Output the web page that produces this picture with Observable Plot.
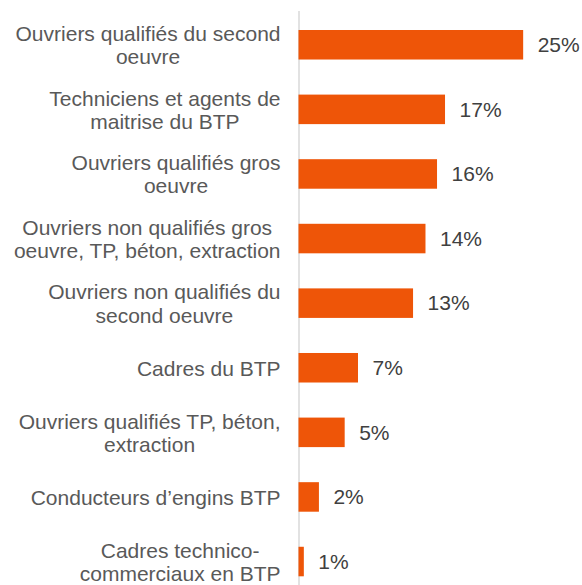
<!DOCTYPE html>
<html>
<head>
<meta charset="utf-8">
<script src="https://cdn.jsdelivr.net/npm/d3@7"></script>
<script src="https://cdn.jsdelivr.net/npm/@observablehq/plot@0.6"></script>
<style>
  html, body { margin: 0; padding: 0; background: #fff; }
  #chart { width: 582px; height: 585px; }
</style>
</head>
<body>
<div id="chart"></div>
<script>
const categories = [
  "Ouvriers qualifiés du second\noeuvre",
  "Techniciens et agents de\nmaitrise du BTP",
  "Ouvriers qualifiés gros\noeuvre",
  "Ouvriers non qualifiés gros\noeuvre, TP, béton, extraction",
  "Ouvriers non qualifiés du\nsecond oeuvre",
  "Cadres du BTP",
  "Ouvriers qualifiés TP, béton,\nextraction",
  "Conducteurs d’engins BTP",
  "Cadres technico-\ncommerciaux en BTP"
];
const values = [25.3, 16.5, 15.6, 14.3, 12.9, 6.7, 5.2, 2.3, 0.6];
const valueLabels = ["25%", "17%", "16%", "14%", "13%", "7%", "5%", "2%", "1%"];

const data = categories.map((c, i) => ({cat: c, value: values[i], label: valueLabels[i]}));

const font = "'Liberation Sans', Arial, sans-serif";

const chart = Plot.plot({
  width: 582,
  height: 585,
  marginTop: 11,
  marginBottom: 0,
  marginLeft: 0,
  marginRight: 0,
  style: {fontFamily: font, background: "#fff"},
  x: {domain: [0, 30], range: [298.5, 298.5 + 30 * 8.88], axis: null},
  y: {domain: categories, range: [30, 576.3], paddingInner: 0.543, paddingOuter: 0, round: false, axis: null},
  marks: [
    Plot.ruleX([0], {stroke: "#D9D9D9", strokeWidth: 1.5}),
    Plot.barX(data, {x: "value", y: "cat", fill: "#EE5508"}),
    Plot.text(data, {x: "value", y: "cat", text: "label", textAnchor: "start", dx: 14,
      fontSize: 21, fill: "#404040"}),
    Plot.text(data, {y: "cat", text: "cat", frameAnchor: "left", textAnchor: "end",
      dx: 280, lineHeight: 1.1, fontSize: 21, fill: "#595959", className: "catlabels"})
  ]
});

document.getElementById("chart").appendChild(chart);

// Center the lines of each category label within its own block, keeping the right edge.
chart.querySelectorAll(".catlabels text").forEach(t => {
  const b1 = t.getBBox();
  t.style.textAnchor = "middle";
  t.querySelectorAll("tspan").forEach(s => s.style.textAnchor = "middle");
  const b2 = t.getBBox();
  const delta = (b1.x + b1.width) - (b2.x + b2.width);
  const tr = t.getAttribute("transform") || "";
  t.setAttribute("transform", (tr + ` translate(${delta},0)`).trim());
});
</script>
</body>
</html>
